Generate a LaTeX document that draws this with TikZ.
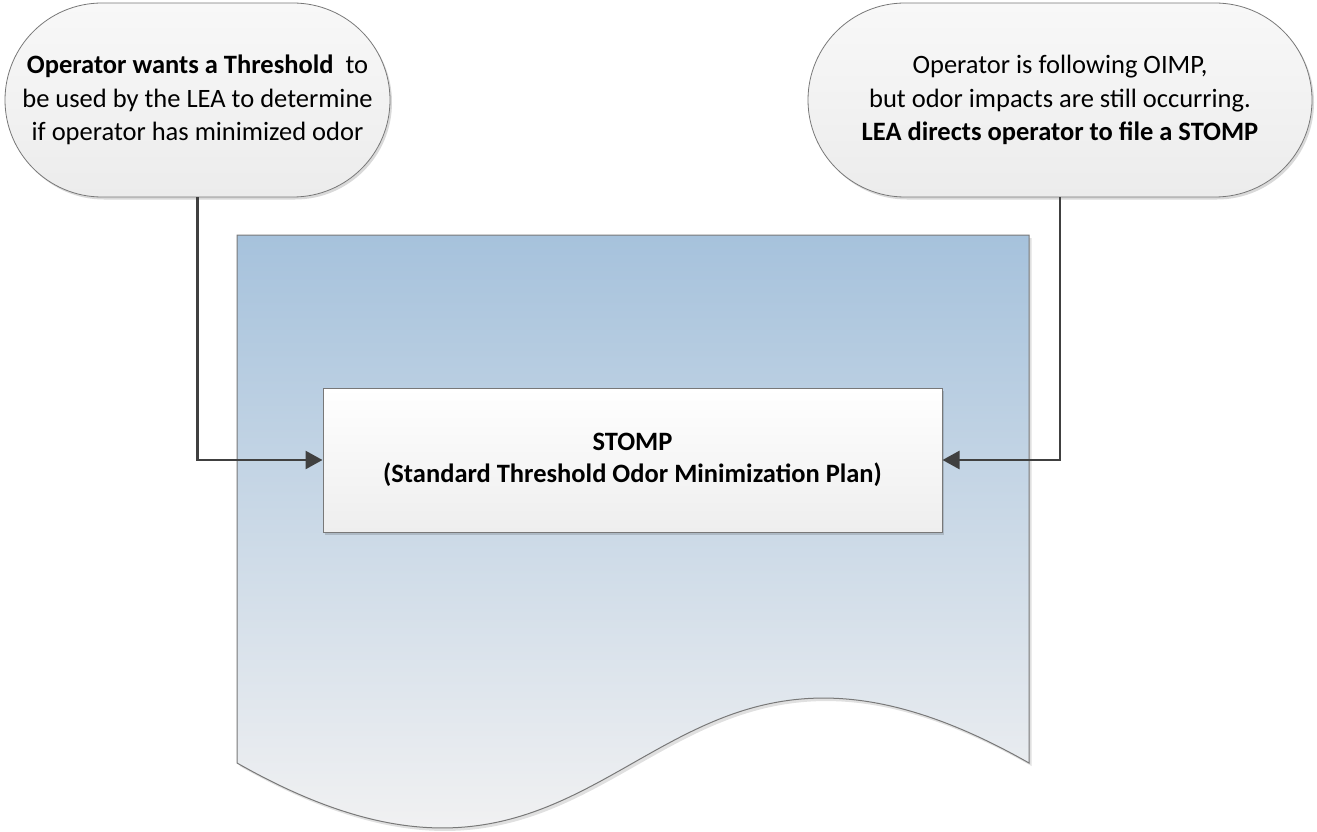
\documentclass[tikz,border=0pt]{standalone}
\usepackage{fontspec}
\setmainfont{Carlito}
\usetikzlibrary{arrows.meta,shadows}

\definecolor{docTop}{RGB}{166,194,220}
\definecolor{docBottom}{RGB}{241,241,242}
\definecolor{edgeGray}{RGB}{120,120,120}
\definecolor{arrowGray}{RGB}{64,64,64}
\definecolor{boxBottom}{RGB}{238,238,238}
\definecolor{termTop}{RGB}{248,248,248}
\definecolor{termBottom}{RGB}{236,236,236}

\tikzset{
  softshadow/.style={drop shadow={shadow xshift=2pt,shadow yshift=-2.5pt,fill=black,opacity=0.15}},
  terminal/.style={draw=edgeGray,line width=0.8pt,rounded corners=97pt,
    minimum width=385pt,minimum height=194pt,align=center,
    top color=termTop,bottom color=termBottom,softshadow,
    font=\fontsize{26.5}{33.5}\selectfont},
  planbox/.style={draw=edgeGray,line width=1pt,
    minimum width=619pt,minimum height=144pt,align=center,
    top color=white,bottom color=boxBottom,softshadow,
    font=\fontsize{26.5}{31.5}\selectfont\bfseries},
  conn/.style={draw=arrowGray,line width=2.6pt,
    -{Triangle[length=17pt,width=18pt]}},
}

\begin{document}
\begin{tikzpicture}[x=1pt,y=-1pt]
  \useasboundingbox (0,0) rectangle (1317,832);

  % document outline with wavy lower edge
  \def\docpath{(237,235) -- (1029,235) -- (1029,763)
    .. controls (633,538) and (633,988) .. (237,763) -- cycle}
  \fill[black,opacity=0.12,shift={(2.5,3)}] \docpath;
  \begin{scope}
    \clip \docpath;
    \shade[top color=docTop,bottom color=docBottom] (237,235) rectangle (1029,830);
  \end{scope}
  \draw[edgeGray,line width=1pt] \docpath;

  % start conditions
  \node[terminal] (want) at (197.5,100)
    {\textbf{Operator wants a Threshold}~ to\\be used by the LEA to determine\\if operator has minimized odor};
  \node[terminal,minimum width=504pt] (follow) at (1060,100)
    {Operator is following OIMP,\\but odor impacts are still occurring.\\\textbf{LEA directs operator to file a STOMP}};

  % the plan itself
  \node[planbox] (stomp) at (632.5,460)
    {STOMP\\(Standard Threshold Odor Minimization Plan)};

  \draw[conn] (want.south) |- (stomp.west);
  \draw[conn] (follow.south) |- (stomp.east);
\end{tikzpicture}
\end{document}
